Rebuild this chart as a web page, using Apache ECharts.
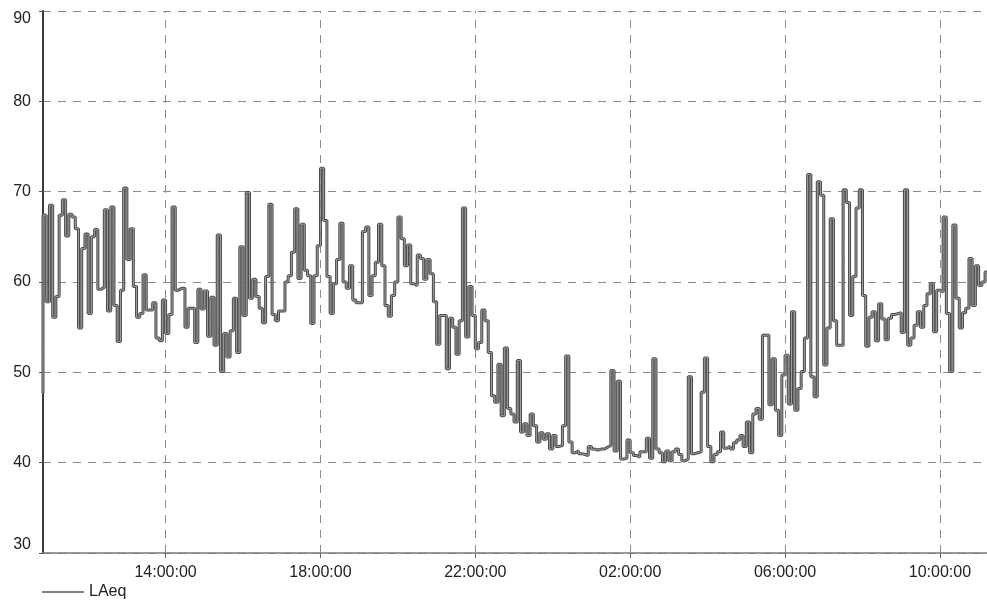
<!DOCTYPE html>
<html>
<head>
<meta charset="utf-8">
<script src="https://cdn.jsdelivr.net/npm/echarts@6/dist/echarts.min.js"></script>
<style>
  html, body { margin: 0; padding: 0; background: #fff; }
  #chart { width: 987px; height: 602px; }
</style>
</head>
<body>
<div id="chart"></div>
<script>
// LAeq, 5-minute values, starting 10:50 on day 1
const seriesName = 'LAeq';
const startClock = [10, 50];     // first sample, day 1
const endClock = [11, 13];       // right edge of the time axis, day 2
const stepMinutes = 5;

const laeq = [
  47.7, 67.4, 57.8, 68.5, 56.1, 58.4, 67.4, 69.1, 65.1, 67.5, 67.2, 65.9,
  54.9, 63.7, 65.3, 56.5, 65.0, 65.8, 59.2, 59.4, 68.0, 56.8, 68.3, 57.4,
  53.4, 59.1, 70.4, 62.5, 65.9, 59.5, 56.1, 56.5, 60.8, 56.9, 56.9, 57.7,
  53.8, 53.5, 58.0, 54.3, 56.4, 68.3, 59.1, 59.3, 59.3, 55.0, 57.1, 57.1,
  53.3, 59.2, 57.0, 59.0, 54.0, 58.3, 53.0, 65.2, 50.1, 54.3, 51.7, 54.6,
  58.2, 52.2, 63.9, 56.3, 69.9, 58.2, 60.3, 58.4, 57.1, 55.5, 60.6, 68.6,
  56.4, 55.7, 56.8, 56.8, 60.0, 60.7, 63.3, 68.1, 60.4, 66.4, 61.3, 60.7,
  55.4, 60.7, 64.0, 72.6, 66.8, 60.6, 56.5, 59.8, 62.5, 66.5, 60.0, 59.3,
  61.8, 58.0, 57.7, 57.7, 65.6, 66.1, 58.5, 60.7, 62.2, 66.4, 61.8, 57.4,
  56.2, 58.5, 60.0, 67.2, 64.8, 61.8, 64.1, 59.8, 59.6, 63.0, 62.6, 60.3,
  62.5, 60.9, 57.8, 53.1, 56.3, 56.3, 50.4, 56.0, 55.0, 52.0, 55.7, 68.2,
  53.9, 59.5, 56.3, 52.6, 53.3, 56.9, 55.7, 52.2, 47.4, 46.7, 50.9, 45.2,
  52.7, 46.0, 45.4, 44.5, 51.3, 43.4, 44.3, 43.0, 45.4, 44.1, 42.3, 43.3,
  42.6, 43.2, 41.5, 43.0, 41.8, 41.9, 44.1, 51.8, 42.3, 41.1, 41.3, 41.0,
  40.9, 40.8, 41.8, 41.5, 41.4, 41.5, 41.5, 41.7, 41.9, 50.2, 41.3, 49.0,
  40.4, 40.5, 42.5, 41.1, 40.8, 40.6, 41.2, 41.2, 42.7, 40.5, 51.5, 41.5,
  41.1, 40.1, 41.3, 40.2, 41.2, 41.5, 40.9, 40.2, 40.4, 49.5, 41.0, 41.1,
  41.2, 47.8, 51.6, 41.8, 40.1, 40.9, 41.2, 43.4, 41.6, 41.8, 41.5, 42.2,
  42.5, 43.0, 41.8, 44.5, 41.1, 45.4, 46.0, 44.8, 54.1, 54.1, 46.4, 51.5,
  45.8, 43.0, 49.7, 51.9, 46.5, 56.7, 45.8, 48.2, 50.1, 53.8, 71.9, 49.5,
  47.3, 71.1, 69.6, 50.8, 54.9, 67.0, 55.7, 53.0, 53.0, 70.2, 68.8, 56.3,
  60.6, 68.2, 70.2, 58.5, 52.9, 56.1, 56.7, 53.5, 57.6, 55.9, 53.6, 56.0,
  56.4, 56.5, 56.6, 54.4, 70.2, 53.0, 53.8, 55.2, 56.7, 55.0, 57.4, 58.7,
  59.8, 54.5, 59.1, 58.9, 67.2, 56.5, 50.1, 66.3, 58.2, 54.9, 56.6, 57.1,
  62.6, 57.4, 61.8, 59.6, 60.0, 61.1
];

const timeTickLabels = ['14:00:00', '18:00:00', '22:00:00', '02:00:00', '06:00:00', '10:00:00'];
const yTicks = [30, 40, 50, 60, 70, 80, 90];

// x is measured in minutes from midnight of day 1
const clockToMinutes = (h, m, day) => (day * 24 + h) * 60 + m;
const xStart = clockToMinutes(startClock[0], startClock[1], 0);
const xEnd = clockToMinutes(endClock[0], endClock[1], 1);

// tick positions from the labels (clock times before the start roll over to day 2)
const tickValues = timeTickLabels.map(function (s) {
  const p = s.split(':').map(Number);
  let t = clockToMinutes(p[0], p[1], 0);
  if (t < xStart) t = clockToMinutes(p[0], p[1], 1);
  return t;
});

const points = laeq.map((v, i) => [xStart + i * stepMinutes, v]);

const chart = echarts.init(document.getElementById('chart'), null, { renderer: 'canvas' });

const gridDash = { color: '#8a8a8a', width: 1, type: [8, 7] };

chart.setOption({
  animation: false,
  backgroundColor: '#ffffff',
  textStyle: { fontFamily: 'Liberation Sans, Arial, sans-serif' },
  grid: { left: 43, right: 0, top: 11, bottom: 49, containLabel: false },
  legend: {
    left: 37,
    top: 579,
    itemWidth: 42,
    itemHeight: 1.2,
    itemGap: 10,
    data: [{ name: seriesName, icon: 'rect' }],
    itemStyle: { color: '#000', borderWidth: 0 },
    lineStyle: { color: '#000' },
    textStyle: { color: '#222', fontSize: 16 }
  },
  xAxis: {
    type: 'value',
    min: xStart,
    max: xEnd,
    axisLine: { show: true, lineStyle: { color: '#7a7a7a', width: 1.5 } },
    axisTick: {
      show: true, length: 5, customValues: tickValues,
      lineStyle: { color: '#666' }
    },
    axisLabel: {
      customValues: tickValues,
      color: '#222',
      fontSize: 16,
      margin: 12,
      formatter: function (val) {
        const idx = tickValues.indexOf(val);
        return idx >= 0 ? timeTickLabels[idx] : '';
      }
    },
    splitLine: { show: false }
  },
  yAxis: {
    type: 'value',
    min: yTicks[0],
    max: yTicks[yTicks.length - 1],
    interval: 10,
    axisLine: { show: true, lineStyle: { color: '#3a3a3a', width: 2 } },
    axisTick: { show: true, length: 4, lineStyle: { color: '#555' } },
    axisLabel: {
      color: '#222', fontSize: 16, margin: 12,
      verticalAlignMaxLabel: 'top',
      verticalAlignMinLabel: 'bottom'
    },
    splitLine: { show: true, lineStyle: gridDash }
  },
  series: [
    {
      name: seriesName,
      type: 'line',
      step: 'start',
      data: points,
      showSymbol: false,
      symbol: 'none',
      color: '#4a4a4a',
      lineStyle: { color: '#4a4a4a', width: 3 },
      markLine: {
        silent: true,
        symbol: 'none',
        label: { show: false },
        lineStyle: gridDash,
        data: tickValues.map(t => ({ xAxis: t }))
      },
      z: 3
    },
    {
      name: seriesName + '-core',
      type: 'line',
      step: 'start',
      data: points,
      showSymbol: false,
      symbol: 'none',
      silent: true,
      lineStyle: { color: '#a0a0a0', width: 1 },
      z: 4
    }
  ]
});
</script>
</body>
</html>
